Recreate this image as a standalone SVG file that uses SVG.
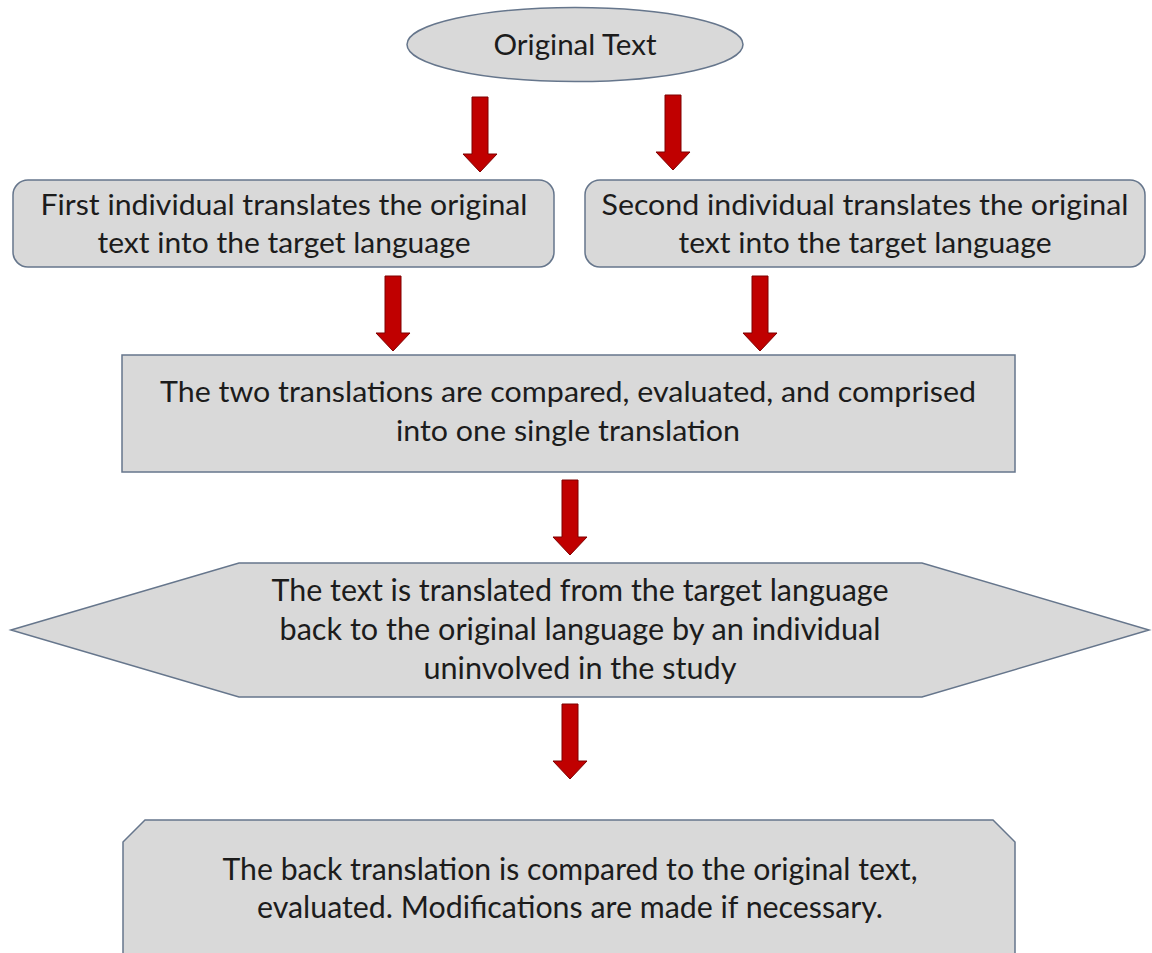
<svg xmlns="http://www.w3.org/2000/svg" xmlns:xlink="http://www.w3.org/1999/xlink" width="1152" height="953" viewBox="0 0 1152 953">
  <style>
    .shape { fill: #d9d9d9; stroke: #66768c; stroke-width: 1.5; }
    .label { font-family: Lato, "Open Sans", "Liberation Sans", sans-serif; font-size: 29px; fill: #1c1c1c; text-anchor: middle; }
    .tall { font-size: 30px; }
    .arrow { fill: #c00000; stroke: #7f0000; stroke-width: 1; }
  </style>
  <defs>
    <path id="blockArrow" d="M -8 0 L 8 0 L 8 57 L 17 57 L 0 75 L -17 57 L -8 57 Z"/>
  </defs>
  <rect width="1152" height="953" fill="#ffffff"/>

  <g id="connectors">
    <use xlink:href="#blockArrow" class="arrow" transform="translate(480,97)"/>
    <use xlink:href="#blockArrow" class="arrow" transform="translate(673,95)"/>
    <use xlink:href="#blockArrow" class="arrow" transform="translate(393,276)"/>
    <use xlink:href="#blockArrow" class="arrow" transform="translate(760,276)"/>
    <use xlink:href="#blockArrow" class="arrow" transform="translate(570,480)"/>
    <use xlink:href="#blockArrow" class="arrow" transform="translate(570,704)"/>
  </g>

  <g id="original-text">
    <ellipse class="shape" cx="575" cy="44.5" rx="168" ry="37"/>
    <text class="label" x="575" y="55" textLength="163" lengthAdjust="spacingAndGlyphs">Original Text</text>
  </g>

  <g id="first-individual">
    <rect class="shape" x="13" y="180" width="541" height="87" rx="15"/>
    <text class="label" x="284" y="215" textLength="487" lengthAdjust="spacingAndGlyphs">First individual translates the original</text>
    <text class="label" x="284" y="253" textLength="373" lengthAdjust="spacingAndGlyphs">text into the target language</text>
  </g>

  <g id="second-individual">
    <rect class="shape" x="585" y="180" width="560" height="87" rx="15"/>
    <text class="label" x="865" y="215" textLength="527" lengthAdjust="spacingAndGlyphs">Second individual translates the original</text>
    <text class="label" x="865" y="253" textLength="373" lengthAdjust="spacingAndGlyphs">text into the target language</text>
  </g>

  <g id="compare-translations">
    <rect class="shape" x="122" y="355" width="893" height="117"/>
    <text class="label" x="568" y="402" textLength="816" lengthAdjust="spacingAndGlyphs">The two translations are compared, evaluated, and comprised</text>
    <text class="label" x="568" y="441" textLength="344" lengthAdjust="spacingAndGlyphs">into one single translation</text>
  </g>

  <g id="back-translate">
    <polygon class="shape" points="11,630 239,563 922,563 1149,630 922,697 239,697"/>
    <text class="label tall" x="580" y="601" textLength="617" lengthAdjust="spacingAndGlyphs">The text is translated from the target language</text>
    <text class="label tall" x="580" y="640" textLength="601" lengthAdjust="spacingAndGlyphs">back to the original language by an individual</text>
    <text class="label tall" x="580" y="679" textLength="313" lengthAdjust="spacingAndGlyphs">uninvolved in the study</text>
  </g>

  <g id="compare-back">
    <polygon class="shape" points="123,842 145,820 993,820 1015,842 1015,960 123,960"/>
    <text class="label tall" x="570" y="880" textLength="695" lengthAdjust="spacingAndGlyphs">The back translation is compared to the original text,</text>
    <text class="label tall" x="570" y="918" textLength="626" lengthAdjust="spacingAndGlyphs">evaluated. Modifications are made if necessary.</text>
  </g>
</svg>
